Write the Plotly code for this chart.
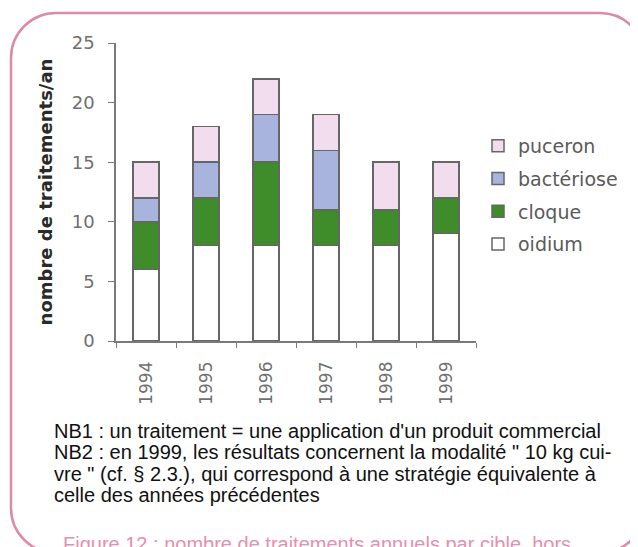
import plotly.graph_objects as go

# data
years = ["1994", "1995", "1996", "1997", "1998", "1999"]
oidium = [6, 8, 8, 8, 8, 9]
cloque = [4, 4, 7, 3, 3, 3]
bacteriose = [2, 3, 4, 5, 0, 0]
puceron = [3, 3, 3, 3, 4, 3]

notes = [
    "NB1 : un traitement = une application d'un produit commercial",
    "NB2 : en 1999, les résultats concernent la modalité \" 10 kg cui-",
    "vre \" (cf. § 2.3.), qui correspond à une stratégie équivalente à",
    "celle des années précédentes",
]
caption = "Figure 12 : nombre de traitements annuels par cible, hors"

FIG_W, FIG_H = 638, 547
# the page body has an 8px margin, so page pixels = figure pixels + 8
OFF = 8
M_L = 116 - OFF
M_T = 43 - OFF
M_R = FIG_W - (476 - OFF)
M_B = FIG_H - (341 - OFF)
PLOT_W = FIG_W - M_L - M_R
PLOT_H = FIG_H - M_T - M_B

PINK = "#dc8aa6"
OUTLINE = "#666666"
TICK_GREY = "#707070"
CHART_FONT = "DejaVu Sans"


def px_x(x):
    # page pixel -> paper coordinate
    return (x - OFF - M_L) / PLOT_W


def px_y(y):
    return (FIG_H - M_B - (y - OFF)) / PLOT_H


def rounded_box(x0, y0, x1, y1, r):
    k = 0.5523 * r
    pts = [
        ("M", [(x0 + r, y0)]),
        ("L", [(x1 - r, y0)]),
        ("C", [(x1 - r + k, y0), (x1, y0 + r - k), (x1, y0 + r)]),
        ("L", [(x1, y1 - r)]),
        ("C", [(x1, y1 - r + k), (x1 - r + k, y1), (x1 - r, y1)]),
        ("L", [(x0 + r, y1)]),
        ("C", [(x0 + r - k, y1), (x0, y1 - r + k), (x0, y1 - r)]),
        ("L", [(x0, y0 + r)]),
        ("C", [(x0, y0 + r - k), (x0 + r - k, y0), (x0 + r, y0)]),
    ]
    parts = []
    for cmd, coords in pts:
        parts.append(cmd + " ".join(f"{px_x(x):.5f},{px_y(y):.5f}" for x, y in coords))
    return " ".join(parts) + " Z"


series = [
    ("oidium", oidium, "#ffffff", 4),
    ("cloque", cloque, "#3f8c2a", 3),
    ("bactériose", bacteriose, "#a8b4de", 2),
    ("puceron", puceron, "#f1dded", 1),
]

fig = go.Figure()
for name, values, color, rank in series:
    fig.add_trace(go.Bar(
        x=years,
        y=values,
        name=name,
        legendgroup=name,
        legendrank=rank,
        width=0.43,
        marker=dict(color=color, line=dict(color=OUTLINE, width=1.5)),
    ))

fig.update_layout(
    width=FIG_W,
    height=FIG_H,
    margin=dict(l=M_L, r=M_R, t=M_T, b=M_B),
    barmode="stack",
    plot_bgcolor="white",
    paper_bgcolor="white",
    font=dict(family=CHART_FONT, color=TICK_GREY),
    showlegend=True,
    legend=dict(
        x=px_x(478),
        y=px_y(127),
        xanchor="left",
        yanchor="top",
        traceorder="grouped",
        tracegroupgap=5,
        font=dict(family=CHART_FONT, size=19, color="#5a5a5a"),
        bgcolor="rgba(0,0,0,0)",
    ),
)

fig.update_yaxes(
    range=[0, 25],
    dtick=5,
    showgrid=False,
    zeroline=False,
    showline=True,
    linecolor="#7a7a7a",
    linewidth=1.5,
    ticks="outside",
    ticklen=6,
    tickcolor="#7a7a7a",
    ticklabelstandoff=10,
    tickfont=dict(family=CHART_FONT, size=18, color=TICK_GREY),
    automargin=False,
    title=dict(
        text="<b>nombre de traitements/an</b>",
        font=dict(family=CHART_FONT, size=18, color="#2a2a2a"),
        standoff=14,
    ),
)

fig.update_xaxes(
    type="category",
    showgrid=False,
    showline=True,
    linecolor="#7a7a7a",
    linewidth=1.5,
    ticks="outside",
    tickson="boundaries",
    ticklen=5,
    tickcolor="#7a7a7a",
    tickangle=-90,
    ticklabelstandoff=12,
    automargin=False,
    tickfont=dict(family=CHART_FONT, size=17, color=TICK_GREY),
)

# rounded pink frame around the figure block
fig.add_shape(
    type="path",
    xref="paper",
    yref="paper",
    path=rounded_box(11, 13, 645, 553, 45),
    line=dict(color=PINK, width=2.5),
    layer="below",
)

# notes under the chart
note_y = [431, 452, 474, 495]
for text, y in zip(notes, note_y):
    fig.add_annotation(
        x=px_x(52),
        y=px_y(y),
        xref="paper",
        yref="paper",
        xanchor="left",
        yanchor="middle",
        text=text,
        showarrow=False,
        font=dict(family="Liberation Sans", size=20, color="#111111"),
    )

fig.add_annotation(
    x=px_x(61),
    y=px_y(531),
    xref="paper",
    yref="paper",
    xanchor="left",
    yanchor="top",
    text=caption,
    showarrow=False,
    font=dict(family="Liberation Sans", size=20, color="#e58fb0"),
)

fig.write_html("out.html")
